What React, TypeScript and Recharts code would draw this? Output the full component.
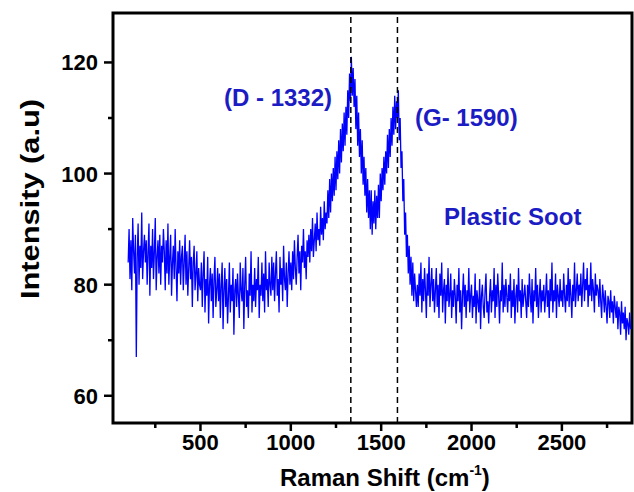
import React from 'react';
import { ComposedChart, Line, XAxis, YAxis, ReferenceLine, ReferenceArea, Customized } from 'recharts';

const SHIFT_START = 100;
const SHIFT_STEP = 5;
const intensity: number[] = [
  84, 90, 81, 88, 79, 92, 86, 82, 89, 67, 85, 91, 80, 87, 83, 93, 81, 86, 89, 84, // 100
  88, 80, 86, 91, 78, 87, 83, 90, 81, 86, 92, 79, 85, 88, 82, 89, 80, 87, 84, 90, // 200
  86, 79, 88, 82, 91, 80, 85, 89, 78, 84, 87, 81, 90, 83, 77, 86, 82, 88, 80, 85, // 300
  87, 79, 84, 89, 80, 86, 78, 83, 88, 81, 85, 76, 84, 87, 79, 82, 86, 77, 83, 80, // 400
  79, 84, 76, 82, 86, 75, 81, 78, 85, 73, 80, 83, 77, 82, 74, 81, 85, 76, 79, 83, // 500
  77, 82, 74, 80, 84, 72, 79, 83, 76, 81, 73, 78, 84, 75, 80, 77, 83, 71, 79, 81, // 600
  76, 82, 78, 74, 84, 79, 77, 83, 72, 80, 85, 76, 79, 74, 82, 78, 86, 75, 80, 77, // 700
  83, 76, 81, 79, 85, 74, 80, 78, 84, 77, 82, 75, 86, 79, 81, 76, 84, 80, 78, 85, // 800
  79, 84, 77, 82, 86, 78, 81, 75, 85, 80, 83, 77, 87, 81, 79, 84, 76, 82, 86, 80, // 900
  84, 79, 86, 81, 88, 83, 80, 85, 89, 82, 86, 79, 87, 84, 90, 83, 86, 81, 88, 85, // 1000
  89, 84, 90, 86, 92, 85, 88, 91, 86, 93, 88, 90, 87, 94, 89, 92, 88, 95, 90, 93, // 1100
  91, 97, 92, 99, 93, 100, 95, 101, 96, 103, 97, 104, 99, 106, 100, 108, 102, 109, 104, 111, // 1200
  105, 112, 107, 115, 110, 118, 113, 121, 114, 119, 112, 117, 108, 114, 105, 111, 103, 108, 100, 106, // 1300
  98, 103, 96, 101, 93, 99, 92, 97, 90, 97, 89, 95, 91, 97, 90, 96, 92, 98, 92, 100, // 1400
  95, 101, 97, 103, 98, 104, 100, 107, 101, 108, 103, 110, 105, 112, 107, 114, 108, 113, 110, 115, // 1500
  106, 110, 101, 104, 95, 99, 89, 93, 85, 89, 82, 87, 80, 85, 78, 84, 77, 82, 79, 76, // 1600
  80, 76, 82, 78, 84, 75, 81, 77, 83, 79, 74, 82, 78, 85, 76, 80, 83, 77, 81, 75, // 1700
  79, 83, 76, 80, 74, 82, 78, 84, 75, 79, 81, 73, 80, 77, 83, 76, 78, 82, 74, 79, // 1800
  76, 81, 78, 73, 80, 77, 83, 75, 79, 72, 78, 82, 76, 80, 74, 79, 77, 83, 75, 78, // 1900
  80, 74, 78, 76, 82, 73, 79, 77, 75, 81, 72, 78, 80, 76, 74, 79, 82, 75, 77, 73, // 2000
  78, 81, 75, 79, 77, 83, 74, 80, 76, 82, 78, 73, 79, 77, 84, 75, 80, 76, 81, 78, // 2100
  75, 80, 77, 82, 74, 79, 76, 81, 73, 78, 80, 75, 83, 77, 79, 74, 81, 76, 78, 80, // 2200
  77, 74, 80, 76, 82, 78, 75, 81, 73, 79, 77, 83, 76, 80, 74, 78, 81, 75, 79, 77, // 2300
  80, 75, 78, 82, 76, 79, 74, 81, 77, 84, 75, 79, 77, 82, 74, 80, 78, 76, 81, 77, // 2400
  79, 76, 82, 78, 75, 80, 77, 83, 76, 81, 78, 74, 80, 77, 84, 76, 79, 82, 77, 80, // 2500
  78, 82, 76, 80, 84, 77, 81, 79, 83, 76, 80, 78, 84, 77, 81, 79, 75, 82, 78, 80, // 2600
  79, 76, 81, 77, 74, 80, 78, 75, 79, 76, 73, 78, 77, 74, 79, 75, 77, 73, 78, 76, // 2700
  74, 77, 72, 76, 75, 71, 77, 73, 75, 72, 76, 70, 74, 73, 71, 75, 72, // 2800
];

const xTicks = [250, 500, 750, 1000, 1250, 1500, 1750, 2000, 2250, 2500, 2750];
const xLabelled = [500, 1000, 1500, 2000, 2500];
const yTicks = [60, 70, 80, 90, 100, 110, 120];
const yLabelled = [60, 80, 100, 120];
const peakLines = [1332, 1590];
const annotations = [
  { text: '(D - 1332)', x: 224, y: 106 },
  { text: '(G- 1590)', x: 415, y: 126 },
  { text: 'Plastic Soot', x: 444, y: 225 },
];

const X_DOMAIN: [number, number] = [16, 2888];
const Y_DOMAIN: [number, number] = [55.1, 128.9];

const data = intensity.map((v, i) => ({ shift: SHIFT_START + i * SHIFT_STEP, intensity: v }));

const FONT = '"Liberation Sans", Arial, Helvetica, sans-serif';
const TEXT_BLUE = '#1c1cc4';

const XTick = (props: any) => {
  const { x, y, payload } = props;
  const major = xLabelled.includes(payload.value);
  return (
    <g>
      <line x1={x} x2={x} y1={y} y2={y + (major ? 8 : 5)} stroke="#000" strokeWidth={2.5} />
      {major && (
        <text x={x} y={y + 27} textAnchor="middle" fontFamily={FONT} fontWeight="bold" fontSize={22} fill="#000">
          {payload.value}
        </text>
      )}
    </g>
  );
};

const YTick = (props: any) => {
  const { x, y, payload } = props;
  const major = yLabelled.includes(payload.value);
  return (
    <g>
      <line x1={x} x2={x - (major ? 9 : 5)} y1={y} y2={y} stroke="#000" strokeWidth={2.5} />
      {major && (
        <text x={x - 15} y={y + 8} textAnchor="end" fontFamily={FONT} fontWeight="bold" fontSize={22} fill="#000">
          {payload.value}
        </text>
      )}
    </g>
  );
};

const Overlay = () => (
  <g>
    {annotations.map((a) => (
      <text key={a.text} x={a.x} y={a.y} fontFamily={FONT} fontWeight="bold" fontSize={24} fill={TEXT_BLUE}>
        {a.text}
      </text>
    ))}
    <text x={280} y={486} fontFamily={FONT} fontWeight="bold" fontSize={24} fill="#000">
      Raman Shift (cm
      <tspan dy={-11} fontSize={14}>-1</tspan>
      <tspan dy={11}>)</tspan>
    </text>
    <text
      x={0}
      y={0}
      transform="translate(39,199) rotate(-90)"
      textAnchor="middle"
      fontFamily={FONT}
      fontWeight="bold"
      fontSize={26}
      textLength={200}
      lengthAdjust="spacingAndGlyphs"
      fill="#000"
    >
      Intensity (a.u)
    </text>
  </g>
);

export default function App() {
  return (
    <div style={{ position: 'absolute', left: 0, top: 0, background: '#fff' }}>
      <ComposedChart width={634} height={492} data={data} margin={{ top: 13, right: 2, bottom: 0, left: 0 }}>
        <XAxis
          dataKey="shift"
          type="number"
          domain={X_DOMAIN}
          ticks={xTicks}
          interval={0}
          allowDataOverflow
          height={69}
          tickSize={0}
          tickMargin={0}
          tickLine={false}
          axisLine={false}
          tick={XTick}
        />
        <YAxis
          type="number"
          domain={Y_DOMAIN}
          ticks={yTicks}
          interval={0}
          allowDataOverflow
          width={113}
          tickSize={0}
          tickMargin={0}
          tickLine={false}
          axisLine={false}
          tick={YTick}
        />
        <Line
          dataKey="intensity"
          type="linear"
          stroke="#0000ff"
          strokeWidth={1.3}
          dot={false}
          activeDot={false}
          isAnimationActive={false}
        />
        {peakLines.map((p) => (
          <ReferenceLine key={p} x={p} stroke="#000" strokeWidth={1.5} strokeDasharray="6 4" />
        ))}
        <ReferenceArea
          x1={X_DOMAIN[0]}
          x2={X_DOMAIN[1]}
          y1={Y_DOMAIN[0]}
          y2={Y_DOMAIN[1]}
          fill="none"
          fillOpacity={0}
          stroke="#000"
          strokeWidth={3}
          ifOverflow="visible"
        />
        <Customized component={Overlay} />
      </ComposedChart>
    </div>
  );
}
